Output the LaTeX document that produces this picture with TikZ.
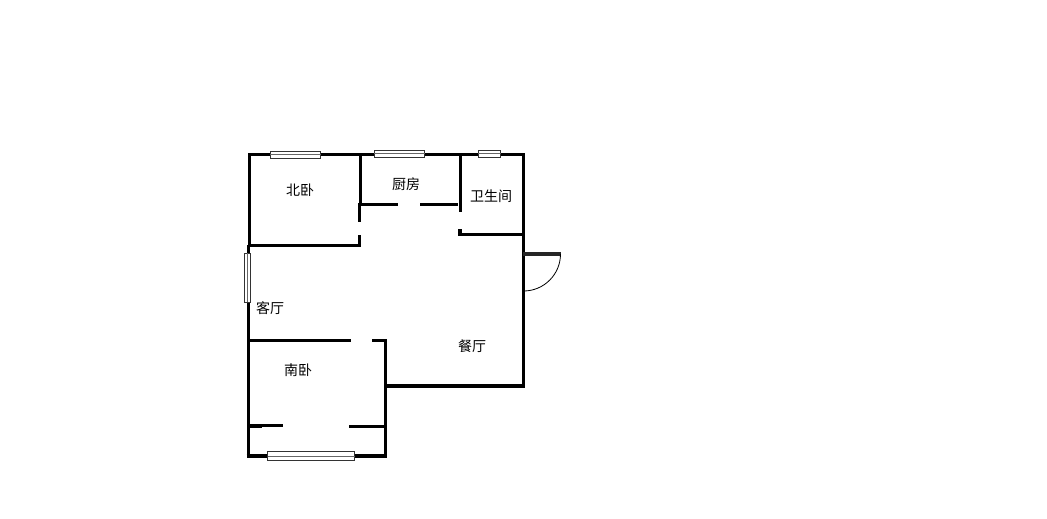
\documentclass[tikz,border=0pt]{standalone}
\usepackage{fontspec}
\newfontfamily\cjk{Noto Sans CJK SC}
\tikzset{
  wall/.style={line width=3.1pt,black,line cap=butt},
  glass/.style={draw=black!80,fill=white,line width=0.9pt},
  pane/.style={draw=black!60,line width=0.9pt},
  room/.style={font=\cjk\fontsize{14}{14}\selectfont,text=black,inner sep=0pt},
  doorleaf/.style={line width=3.4pt,black!85},
  swing/.style={line width=0.8pt,black}
}
\begin{document}
\begin{tikzpicture}[x=1pt,y=-1pt]
\useasboundingbox[fill=white] (0,0) rectangle (1047,519);
% outer and inner walls
\draw[wall] (248,154.3) -- (524.7,154.3);
\draw[wall] (249.6,153) -- (249.6,246);
\draw[wall] (248.6,245) -- (248.6,341);
\draw[wall] (360.3,154) -- (360.3,205);
\draw[wall] (359.3,203) -- (359.3,222);
\draw[wall] (359.3,235) -- (359.3,246.5);
\draw[wall] (249,245.3) -- (360.5,245.3);
\draw[wall] (360,204.3) -- (397.7,204.3);
\draw[wall] (420,204.3) -- (458,204.3);
\draw[wall] (460.3,154) -- (460.3,212);
\draw[wall] (460,229) -- (460,235.6);
\draw[wall] (459,234.3) -- (524,234.3);
\draw[wall] (523.3,153) -- (523.3,387.3);
\draw[wall] (384,386) -- (524.7,386);
% south bedroom
\draw[wall] (248,340.3) -- (350.7,340.3);
\draw[wall] (372.3,340.3) -- (386.7,340.3);
\draw[wall] (385.3,339) -- (385.3,457.5);
\draw[wall] (248.5,339) -- (248.5,457.5);
\draw[wall] (246.7,456) -- (386.5,456);
\draw[wall] (248,425.6) -- (283,425.6);
\draw[line width=4.4pt] (248,426) -- (262,426);
\draw[wall] (349,426.2) -- (385,426.2);
% windows
\draw[glass] (270.3,151.3) rectangle (320.7,158);
\draw[pane] (270.3,154.6) -- (320.7,154.6);
\draw[glass] (374.3,150.5) rectangle (424.7,157);
\draw[pane] (374.3,153.8) -- (424.7,153.8);
\draw[glass] (478.3,150.5) rectangle (500.7,157);
\draw[pane] (478.3,153.8) -- (500.7,153.8);
\draw[glass] (244.5,253.3) rectangle (250,302.3);
\draw[pane] (247.2,253.3) -- (247.2,302.3);
\draw[glass] (267.7,451.7) rectangle (354.7,460.3);
\draw[pane] (267.7,456) -- (354.7,456);
% entrance door
\draw[doorleaf] (523,254) -- (560.7,254);
\draw[swing] (560.5,254) arc[start angle=0,end angle=90,radius=37];
% room names
\node[room] (beibedroom) at (300,190) {北卧};
\node[room] (kitchen) at (406,184) {厨房};
\node[room] (bath) at (491,196) {卫生间};
\node[room] (living) at (270,308) {客厅};
\node[room] (dining) at (472,346) {餐厅};
\node[room] (nanbedroom) at (298,370) {南卧};
\end{tikzpicture}
\end{document}
